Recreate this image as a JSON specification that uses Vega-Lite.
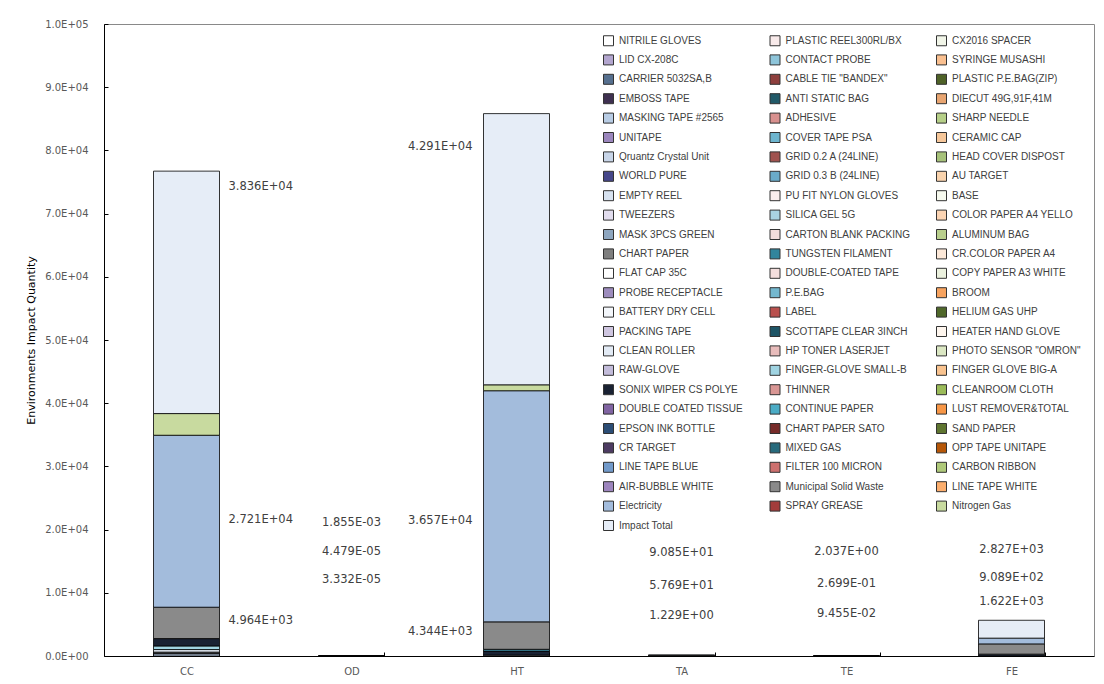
{
  "$schema": "https://vega.github.io/schema/vega-lite/v6.json",
  "width": 990,
  "height": 632,
  "autosize": "none",
  "padding": {"left": 104, "top": 24, "right": 10, "bottom": 28},
  "config": {"view": {"stroke": "#898989", "strokeWidth": 1}, "font": "DejaVu Sans"},
  "datasets": {
    "bars": [
      {"cat": "CC", "component": "MASKING TAPE #2565", "idx": 12, "value": 350},
      {"cat": "CC", "component": "Qruantz Crystal Unit", "idx": 18, "value": 120},
      {"cat": "CC", "component": "BATTERY DRY CELL", "idx": 42, "value": 150},
      {"cat": "CC", "component": "CLEAN ROLLER", "idx": 48, "value": 400},
      {"cat": "CC", "component": "FINGER-GLOVE SMALL-B", "idx": 52, "value": 570},
      {"cat": "CC", "component": "SONIX WIPER CS POLYE", "idx": 54, "value": 1166},
      {"cat": "CC", "component": "Municipal Solid Waste", "idx": 70, "value": 4964},
      {"cat": "CC", "component": "Electricity", "idx": 72, "value": 27210},
      {"cat": "CC", "component": "Nitrogen Gas", "idx": 74, "value": 3430},
      {"cat": "CC", "component": "Impact Total", "idx": 75, "value": 38360},
      {"cat": "OD", "component": "SONIX WIPER CS POLYE", "idx": 54, "value": 0.001777},
      {"cat": "OD", "component": "Municipal Solid Waste", "idx": 70, "value": 0.00003332},
      {"cat": "OD", "component": "Electricity", "idx": 72, "value": 0.00004479},
      {"cat": "OD", "component": "Impact Total", "idx": 75, "value": 0.001855},
      {"cat": "HT", "component": "CLEAN ROLLER", "idx": 48, "value": 140},
      {"cat": "HT", "component": "SONIX WIPER CS POLYE", "idx": 54, "value": 640},
      {"cat": "HT", "component": "CONTINUE PAPER", "idx": 58, "value": 280},
      {"cat": "HT", "component": "Municipal Solid Waste", "idx": 70, "value": 4344},
      {"cat": "HT", "component": "Electricity", "idx": 72, "value": 36570},
      {"cat": "HT", "component": "Nitrogen Gas", "idx": 74, "value": 936},
      {"cat": "HT", "component": "Impact Total", "idx": 75, "value": 42910},
      {"cat": "TA", "component": "SONIX WIPER CS POLYE", "idx": 54, "value": 31.93},
      {"cat": "TA", "component": "Municipal Solid Waste", "idx": 70, "value": 1.229},
      {"cat": "TA", "component": "Electricity", "idx": 72, "value": 57.69},
      {"cat": "TA", "component": "Impact Total", "idx": 75, "value": 90.85},
      {"cat": "TE", "component": "SONIX WIPER CS POLYE", "idx": 54, "value": 1.673},
      {"cat": "TE", "component": "Municipal Solid Waste", "idx": 70, "value": 0.09455},
      {"cat": "TE", "component": "Electricity", "idx": 72, "value": 0.2699},
      {"cat": "TE", "component": "Impact Total", "idx": 75, "value": 2.037},
      {"cat": "FE", "component": "SONIX WIPER CS POLYE", "idx": 54, "value": 296.1},
      {"cat": "FE", "component": "Municipal Solid Waste", "idx": 70, "value": 1622},
      {"cat": "FE", "component": "Electricity", "idx": 72, "value": 908.9},
      {"cat": "FE", "component": "Impact Total", "idx": 75, "value": 2827}
    ],
    "labels": [
      {"cat": "CC", "label": "3.836E+04", "at": 74200},
      {"cat": "CC", "label": "2.721E+04", "at": 21500},
      {"cat": "CC", "label": "4.964E+03", "at": 5540},
      {"cat": "OD", "label": "1.855E-03", "at": 21000},
      {"cat": "OD", "label": "4.479E-05", "at": 16500},
      {"cat": "OD", "label": "3.332E-05", "at": 12000},
      {"cat": "HT", "label": "4.291E+04", "at": 80500},
      {"cat": "HT", "label": "3.657E+04", "at": 21400},
      {"cat": "HT", "label": "4.344E+03", "at": 3800},
      {"cat": "TA", "label": "9.085E+01", "at": 16300},
      {"cat": "TA", "label": "5.769E+01", "at": 11100},
      {"cat": "TA", "label": "1.229E+00", "at": 6300},
      {"cat": "TE", "label": "2.037E+00", "at": 16500},
      {"cat": "TE", "label": "2.699E-01", "at": 11400},
      {"cat": "TE", "label": "9.455E-02", "at": 6600},
      {"cat": "FE", "label": "2.827E+03", "at": 16800},
      {"cat": "FE", "label": "9.089E+02", "at": 12300},
      {"cat": "FE", "label": "1.622E+03", "at": 8500}
    ]
  },
  "layer": [
    {
      "data": {"name": "bars"},
      "mark": {"type": "bar", "stroke": "#000000", "strokeWidth": 0.8},
      "encoding": {
        "x": {
          "field": "cat", "type": "nominal",
          "sort": ["CC", "OD", "HT", "TA", "TE", "FE"],
          "scale": {"paddingInner": 0.6, "paddingOuter": 0.3},
          "axis": {
            "title": null, "labelAngle": 0, "tickBand": "extent",
            "domainColor": "#000000", "tickColor": "#000000", "tickSize": -4,
            "labelColor": "#595959", "labelFontSize": 10, "labelPadding": 14
          }
        },
        "y": {
          "field": "value", "type": "quantitative", "stack": "zero",
          "scale": {"domain": [0, 100000], "nice": false},
          "axis": {
            "title": "Environments Impact Quantity",
            "values": [0, 10000, 20000, 30000, 40000, 50000, 60000, 70000, 80000, 90000, 100000],
            "labelExpr": "datum.value == 0 ? '0.0E+00' : (datum.value >= 100000 ? '1.0E+05' : format(datum.value / 10000, '.1f') + 'E+04')",
            "grid": false, "domainColor": "#000000", "tickColor": "#000000", "tickSize": -4,
            "labelColor": "#595959", "labelFontSize": 10, "labelPadding": 20,
            "titleFontSize": 11, "titleFontWeight": "normal", "titleColor": "#000000", "titlePadding": 8
          }
        },
        "color": {
          "field": "component", "type": "nominal",
          "scale": {
            "domain": ["NITRILE GLOVES", "PLASTIC REEL300RL/BX", "CX2016 SPACER", "LID CX-208C", "CONTACT PROBE", "SYRINGE MUSASHI", "CARRIER 5032SA,B", "CABLE TIE \"BANDEX\"", "PLASTIC P.E.BAG(ZIP)", "EMBOSS TAPE", "ANTI STATIC BAG", "DIECUT 49G,91F,41M", "MASKING TAPE #2565", "ADHESIVE", "SHARP NEEDLE", "UNITAPE", "COVER TAPE PSA", "CERAMIC CAP", "Qruantz Crystal Unit", "GRID 0.2 A (24LINE)", "HEAD COVER DISPOST", "WORLD PURE", "GRID 0.3 B (24LINE)", "AU TARGET", "EMPTY REEL", "PU FIT NYLON GLOVES", "BASE", "TWEEZERS", "SILICA GEL 5G", "COLOR PAPER A4 YELLO", "MASK 3PCS GREEN", "CARTON BLANK PACKING", "ALUMINUM BAG", "CHART PAPER", "TUNGSTEN FILAMENT", "CR.COLOR PAPER A4", "FLAT CAP 35C", "DOUBLE-COATED TAPE", "COPY PAPER A3 WHITE", "PROBE RECEPTACLE", "P.E.BAG", "BROOM", "BATTERY DRY CELL", "LABEL", "HELIUM GAS UHP", "PACKING TAPE", "SCOTTAPE CLEAR 3INCH", "HEATER HAND GLOVE", "CLEAN ROLLER", "HP TONER LASERJET", "PHOTO SENSOR \"OMRON\"", "RAW-GLOVE", "FINGER-GLOVE SMALL-B", "FINGER GLOVE BIG-A", "SONIX WIPER CS POLYE", "THINNER", "CLEANROOM CLOTH", "DOUBLE COATED TISSUE", "CONTINUE PAPER", "LUST REMOVER&TOTAL", "EPSON INK BOTTLE", "CHART PAPER SATO", "SAND PAPER", "CR TARGET", "MIXED GAS", "OPP TAPE UNITAPE", "LINE TAPE BLUE", "FILTER 100 MICRON", "CARBON RIBBON", "AIR-BUBBLE WHITE", "Municipal Solid Waste", "LINE TAPE WHITE", "Electricity", "SPRAY GREASE", "Nitrogen Gas", "Impact Total"],
            "range": ["#ffffff", "#f8eaea", "#f1f5e8", "#b3a6cf", "#8ec5da", "#fac090", "#56708f", "#8e3f3d", "#4f6228", "#3f3151", "#215968", "#e8a571", "#b8cce4", "#d8908e", "#b6cf88", "#9b86bd", "#6db5cf", "#f6c79a", "#c8d5e8", "#a0524f", "#a7c27a", "#46478a", "#6aabc9", "#f9d3ad", "#d7e2f0", "#fbeeee", "#f7faef", "#e2ddee", "#a9d3e2", "#fcd5b4", "#8ea6bf", "#f2dcdb", "#b9cf8d", "#7f7f7f", "#31859c", "#fde9d9", "#ffffff", "#f4dedd", "#ebf1de", "#9d8cbd", "#74b8cf", "#f7a35f", "#f4f7fb", "#b9504d", "#50682b", "#cfc6e0", "#1e5566", "#fef6ee", "#e3ebf5", "#e8bcbb", "#dbe7c3", "#c3bcda", "#a0d4e2", "#f9c38f", "#1a2233", "#d99694", "#9bbb59", "#8064a2", "#4bacc6", "#f79646", "#2c4d75", "#772c2a", "#5f7530", "#4d3b62", "#276a7c", "#b65708", "#729aca", "#cd706e", "#afc97a", "#9d85be", "#8a8a8a", "#fcae6d", "#a3bcdc", "#a33c3b", "#c8da9f", "#e6edf7"]
          },
          "legend": {
            "orient": "none", "legendX": 499, "legendY": 11, "columns": 3, "direction": "horizontal", "title": null,
            "symbolType": "square", "symbolSize": 100, "symbolStrokeColor": "#333333", "symbolStrokeWidth": 1,
            "symbolOpacity": 1, "labelFont": "Liberation Sans", "labelFontSize": 10, "labelColor": "#404040",
            "labelOffset": 5, "rowPadding": 4.4, "columnPadding": 19.5, "gridAlign": "all",
            "symbolLimit": 100, "labelLimit": 200
          }
        },
        "order": {"field": "idx", "type": "quantitative", "sort": "ascending"}
      }
    },
    {
      "data": {"name": "labels"},
      "transform": [{"filter": "datum.cat == 'CC'"}],
      "mark": {"type": "text", "align": "left", "baseline": "middle", "dx": 42, "fontSize": 11.5, "color": "#404040"},
      "encoding": {
        "x": {"field": "cat", "type": "nominal", "sort": ["CC", "OD", "HT", "TA", "TE", "FE"]},
        "y": {"field": "at", "type": "quantitative"},
        "text": {"field": "label"}
      }
    },
    {
      "data": {"name": "labels"},
      "transform": [{"filter": "datum.cat == 'HT'"}],
      "mark": {"type": "text", "align": "right", "baseline": "middle", "dx": -44, "fontSize": 11.5, "color": "#404040"},
      "encoding": {
        "x": {"field": "cat", "type": "nominal", "sort": ["CC", "OD", "HT", "TA", "TE", "FE"]},
        "y": {"field": "at", "type": "quantitative"},
        "text": {"field": "label"}
      }
    },
    {
      "data": {"name": "labels"},
      "transform": [{"filter": "datum.cat != 'CC' && datum.cat != 'HT'"}],
      "mark": {"type": "text", "align": "center", "baseline": "middle", "fontSize": 11.5, "color": "#404040"},
      "encoding": {
        "x": {"field": "cat", "type": "nominal", "sort": ["CC", "OD", "HT", "TA", "TE", "FE"]},
        "y": {"field": "at", "type": "quantitative"},
        "text": {"field": "label"}
      }
    }
  ]
}
